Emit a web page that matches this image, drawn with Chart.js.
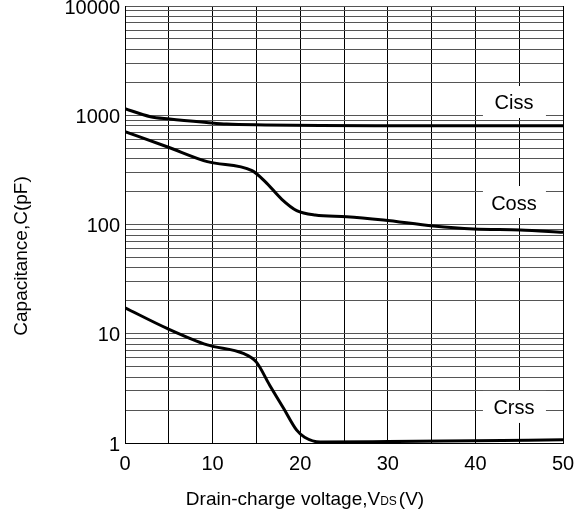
<!DOCTYPE html>
<html>
<head>
<meta charset="utf-8">
<script src="https://cdn.jsdelivr.net/npm/chart.js@4.4.0/dist/chart.umd.min.js"></script>
<style>
  html, body { margin: 0; padding: 0; background: #fff; }
</style>
</head>
<body>
<canvas id="capChart" width="581" height="513"></canvas>
<script>
// Curves: V_DS in volts, capacitance in pF
const cissV = [0, 2.9, 5.1, 9.3, 11.6, 16, 22.3, 30, 40, 50];
const cissC = [1150, 970, 925, 860, 830, 815, 805, 802, 800, 800];

const cossV = [0, 4.8, 9.4, 14.5, 16, 17.9, 19.6, 21.7, 25.3, 29.5, 35.2, 39.8, 45.1, 50];
const cossC = [707, 515, 376, 311, 247, 170, 134, 122, 118, 110, 97, 91, 89, 85];

const crssV = [0, 4.8, 9.4, 13.5, 15, 16.5, 18.1, 19.6, 20.5, 22.3, 30, 40, 50];
const crssC = [17.3, 11.2, 7.9, 6.6, 5.5, 3.4, 2.08, 1.31, 1.13, 1.02, 1.03, 1.05, 1.07];

const curveNames = ['Ciss', 'Coss', 'Crss'];

const xTickLabels = [0, 10, 20, 30, 40, 50];
const yTickLabels = [1, 10, 100, 1000, 10000];

// log grid: 1..9 in every decade, plus the top line
const yGridValues = [];
yTickLabels.slice(0, -1).forEach(d => {
    for (let m = 1; m <= 9; m++) yGridValues.push(d * m);
});
yGridValues.push(yTickLabels[yTickLabels.length - 1]);

const FONT = '"Liberation Sans", Arial, Helvetica, sans-serif';

function toPoints(xs, ys) {
    return xs.map((x, i) => ({ x: x, y: ys[i] }));
}

function curve(xs, ys) {
    return {
        data: toPoints(xs, ys),
        borderColor: '#000',
        borderWidth: 3,
        pointRadius: 0,
        fill: false,
        cubicInterpolationMode: 'monotone'
    };
}

// where the curve names sit (data coords), boxes blank the grid behind them
const tagSpots = [
    { x: 44.4, y: 1268 },
    { x: 44.4, y: 154 },
    { x: 44.4, y: 2.05 }
];

const curveTags = {
    id: 'curveTags',
    beforeDatasetsDraw(chart) {
        const ctx = chart.ctx;
        const xs = chart.scales.x, ys = chart.scales.y;
        ctx.save();
        ctx.font = '20px ' + FONT;
        ctx.textAlign = 'center';
        ctx.textBaseline = 'middle';
        curveNames.forEach((name, i) => {
            const px = xs.getPixelForValue(tagSpots[i].x);
            const py = ys.getPixelForValue(tagSpots[i].y);
            ctx.fillStyle = '#fff';
            ctx.fillRect(px - 31, py - 18, 63, 32);
            ctx.fillStyle = '#000';
            ctx.fillText(name, px, py);
        });
        ctx.restore();
    }
};

const axisTitles = {
    id: 'axisTitles',
    afterDraw(chart) {
        const ctx = chart.ctx;
        ctx.save();
        ctx.fillStyle = '#000';

        // y title, rotated
        ctx.translate(22, 256);
        ctx.rotate(-Math.PI / 2);
        ctx.font = '19px ' + FONT;
        ctx.textAlign = 'center';
        ctx.textBaseline = 'middle';
        ctx.fillText('Capacitance,C(pF)', 0, 0);
        ctx.setTransform(1, 0, 0, 1, 0, 0);

        // x title with subscript DS
        const main = 'Drain-charge voltage,V', sub = 'DS', tail = '(V)';
        ctx.textAlign = 'left';
        ctx.textBaseline = 'alphabetic';
        ctx.font = '19px ' + FONT;
        const w1 = ctx.measureText(main).width;
        const w3 = ctx.measureText(tail).width;
        ctx.font = '12px ' + FONT;
        const w2 = ctx.measureText(sub).width + 2;
        let x = 305 - (w1 + w2 + w3) / 2;
        const base = 505;
        ctx.font = '19px ' + FONT;
        ctx.fillText(main, x, base);
        x += w1;
        ctx.font = '12px ' + FONT;
        ctx.fillText(sub, x, base);
        x += w2;
        ctx.font = '19px ' + FONT;
        ctx.fillText(tail, x, base);
        ctx.restore();
    }
};

new Chart(document.getElementById('capChart'), {
    type: 'line',
    data: {
        datasets: [curve(cissV, cissC), curve(cossV, cossC), curve(crssV, crssC)]
    },
    options: {
        responsive: false,
        animation: false,
        layout: { padding: { left: 65, right: 18, top: 6, bottom: 37 } },
        scales: {
            x: {
                type: 'linear',
                min: 0,
                max: 50,
                afterBuildTicks: s => {
                    const t = [];
                    for (let v = 0; v <= 50; v += 5) t.push({ value: v });
                    s.ticks = t;
                },
                afterFit: s => { s.height = 33; s.paddingLeft = 0; s.paddingRight = 0; },
                ticks: {
                    autoSkip: false,
                    maxRotation: 0,
                    padding: 9,
                    color: '#000',
                    font: { size: 20, family: FONT },
                    callback: v => xTickLabels.includes(v) ? String(v) : ''
                },
                grid: { color: '#000', lineWidth: 1, drawTicks: false },
                border: { color: '#000', width: 1 }
            },
            y: {
                type: 'logarithmic',
                min: 1,
                max: 10000,
                afterBuildTicks: s => { s.ticks = yGridValues.map(v => ({ value: v })); },
                afterFit: s => { s.width = 60; s.paddingTop = 0; s.paddingBottom = 0; },
                ticks: {
                    autoSkip: false,
                    padding: 5,
                    labelOffset: 2,
                    color: '#000',
                    font: { size: 20, family: FONT },
                    callback: v => yTickLabels.includes(v) ? String(v) : ''
                },
                grid: { color: '#555', lineWidth: 1, drawTicks: false },
                border: { color: '#000', width: 1 }
            }
        },
        plugins: {
            legend: { display: false },
            tooltip: { enabled: false }
        }
    },
    plugins: [curveTags, axisTitles]
});
</script>
</body>
</html>
